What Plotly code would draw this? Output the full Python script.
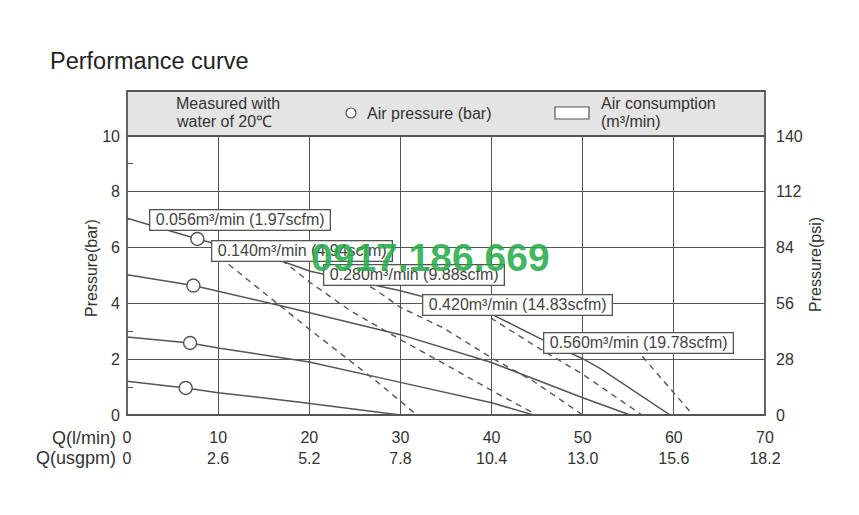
import plotly.graph_objects as go

# ---------------- data ----------------
q_ticks = [0, 10, 20, 30, 40, 50, 60, 70]
usgpm_ticks = ["0", "2.6", "5.2", "7.8", "10.4", "13.0", "15.6", "18.2"]
bar_ticks = [0, 2, 4, 6, 8, 10]
psi_ticks = [0, 28, 56, 84, 112, 140]

# air-pressure curves (solid), flow l/min vs pressure bar
s1_q = [0, 6.44, 10, 19, 30]
s1_p = [1.21, 0.97, 0.8, 0.46, 0]
s2_q = [0, 6.92, 10, 20, 30, 40, 44.6]
s2_p = [2.80, 2.58, 2.4, 1.9, 1.17, 0.44, 0]
s3_q = [0, 7.28, 17.1, 30, 40, 50, 55.2]
s3_p = [5.03, 4.64, 3.9, 2.88, 1.88, 0.62, 0]
s4_q = [0, 7.72, 17.1, 20.1, 30, 32.5, 40.2, 46, 50.1, 51.9, 59.6]
s4_p = [7.05, 6.31, 5.5, 5.15, 4.45, 4.24, 3.58, 2.63, 2.0, 1.67, 0]

# circle markers (air pressure points)
circ_q = [6.44, 6.92, 7.28, 7.72]
circ_p = [0.97, 2.58, 4.64, 6.31]

# air-consumption curves (dashed)
d1_q = [9.3, 11.3, 20.1, 27.4, 31.8]
d1_p = [5.9, 5.36, 3.05, 1.2, 0]
d2_q = [17, 20.1, 24.5, 30, 35, 40, 45]
d2_p = [5.55, 4.75, 3.74, 2.7, 1.8, 0.88, 0]
d3_q = [24.6, 27.4, 30, 34.7, 40, 44.6, 50]
d3_p = [5.0, 4.46, 3.86, 3.12, 2.05, 1.21, 0]
d4_q = [39, 40.2, 45, 50, 56.5]
d4_p = [3.75, 3.42, 2.43, 1.46, 0]
d5_q = [55, 56.3, 62.1]
d5_p = [2.7, 2.19, 0]

cons_labels = ["0.056m³/min (1.97scfm)", "0.140m³/min (4.94scfm)",
               "0.280m³/min (9.88scfm)", "0.420m³/min (14.83scfm)",
               "0.560m³/min (19.78scfm)"]
label_q = [12.45, 19.25, 31.5, 42.8, 56.1]
label_p = [6.98, 5.88, 5.02, 3.96, 2.58]

# ---------------- style ----------------
FONT = "Liberation Sans, Arial, sans-serif"
LC = "#555555"
TXT = "#333333"

# plot area in pixels
L, R, T, B = 127, 765, 136, 415
W, H = 859, 515
PW, PH = R - L, B - T


def px(xp):
    return (xp - L) / PW


def py(yp):
    return (B - yp) / PH


fig = go.Figure()

for qq, pp in [(s1_q, s1_p), (s2_q, s2_p), (s3_q, s3_p), (s4_q, s4_p)]:
    fig.add_trace(go.Scatter(x=qq, y=pp, mode="lines",
                             line=dict(color=LC, width=1.5),
                             hoverinfo="skip", showlegend=False))
for qq, pp in [(d1_q, d1_p), (d2_q, d2_p), (d3_q, d3_p), (d4_q, d4_p), (d5_q, d5_p)]:
    fig.add_trace(go.Scatter(x=qq, y=pp, mode="lines",
                             line=dict(color=LC, width=1.4, dash="6px,5px"),
                             hoverinfo="skip", showlegend=False))

fig.add_trace(go.Scatter(x=circ_q, y=circ_p, mode="markers",
                         marker=dict(symbol="circle", size=13, color="white",
                                     line=dict(color=LC, width=1.4)),
                         hoverinfo="skip", showlegend=False))

# invisible anchor for right axis
fig.add_trace(go.Scatter(x=[0] * len(psi_ticks), y=psi_ticks, yaxis="y2",
                         mode="markers", marker=dict(opacity=0),
                         hoverinfo="skip", showlegend=False))

annotations = []
for txt, qx, pyv in zip(cons_labels, label_q, label_p):
    annotations.append(dict(x=qx, y=pyv, xref="x", yref="y",
                            text="\u00a0" + txt + "\u00a0", showarrow=False,
                            font=dict(family=FONT, size=16, color="#444444"),
                            bgcolor="white", bordercolor=LC, borderwidth=1.3,
                            borderpad=1))

# title
annotations.append(dict(x=px(48), y=py(61), xref="paper", yref="paper",
                        text="Performance curve", showarrow=False,
                        xanchor="left", yanchor="middle",
                        font=dict(family=FONT, size=23.5, color="#222222")))
# header texts
hdr = [("Measured with", 174, 103), ("water of 20℃", 174, 121),
       ("Air pressure (bar)", 365, 113),
       ("Air consumption", 599, 103), ("(m³/min)", 599, 121)]
for t, xp_, yp_ in hdr:
    annotations.append(dict(x=px(xp_), y=py(yp_), xref="paper", yref="paper",
                            text=t, showarrow=False, xanchor="left", yanchor="middle",
                            font=dict(family=FONT, size=16, color=TXT)))
# axis titles
annotations.append(dict(x=px(91), y=py(268), xref="paper", yref="paper",
                        text="Pressure(bar)", showarrow=False, textangle=-90,
                        xanchor="center", yanchor="middle",
                        font=dict(family=FONT, size=16, color=TXT)))
annotations.append(dict(x=px(815), y=py(265), xref="paper", yref="paper",
                        text="Pressure(psi)", showarrow=False, textangle=-90,
                        xanchor="center", yanchor="middle",
                        font=dict(family=FONT, size=16, color=TXT)))
# bottom row names
annotations.append(dict(x=px(118), y=py(438), xref="paper", yref="paper",
                        text="Q(l/min)", showarrow=False, xanchor="right", yanchor="middle",
                        font=dict(family=FONT, size=18, color=TXT)))
annotations.append(dict(x=px(118), y=py(458), xref="paper", yref="paper",
                        text="Q(usgpm)", showarrow=False, xanchor="right", yanchor="middle",
                        font=dict(family=FONT, size=18, color=TXT)))
# watermark
annotations.append(dict(x=px(430), y=py(257), xref="paper", yref="paper",
                        text="<b>0917.186.669</b>", showarrow=False,
                        xanchor="center", yanchor="middle",
                        font=dict(family=FONT, size=39, color="rgba(40,172,75,0.9)")))

shapes = [
    # header box
    dict(type="rect", xref="paper", yref="paper", x0=0, x1=1, y0=1, y1=py(91),
         fillcolor="#e4e4e4", line=dict(color=LC, width=1.8), layer="below"),
    # plot frame
    dict(type="rect", xref="paper", yref="paper", x0=0, x1=1, y0=0, y1=1,
         line=dict(color=LC, width=1.8)),
    # legend circle
    dict(type="circle", xref="paper", yref="paper",
         x0=px(346), x1=px(356), y0=py(118), y1=py(108),
         fillcolor="white", line=dict(color=LC, width=1.2)),
    # legend rectangle
    dict(type="rect", xref="paper", yref="paper",
         x0=px(555), x1=px(589), y0=py(119), y1=py(107),
         fillcolor="white", line=dict(color=LC, width=1.2)),
]

fig.update_layout(
    width=W, height=H,
    margin=dict(l=L, r=W - R, t=T, b=H - B, pad=0),
    paper_bgcolor="white", plot_bgcolor="white",
    showlegend=False,
    font=dict(family=FONT, size=16, color=TXT),
    xaxis=dict(range=[0, 70], tickvals=q_ticks,
               ticktext=[f"{a}<br>{b}" for a, b in zip(q_ticks, usgpm_ticks)],
               showgrid=True, gridcolor=LC, gridwidth=1.3, zeroline=False,
               showline=False, ticks="", ticklabelstandoff=11,
               tickfont=dict(family=FONT, size=16, color=TXT), fixedrange=True),
    yaxis=dict(range=[0, 10], tickvals=bar_ticks, showgrid=True, gridcolor=LC,
               gridwidth=1.3, zeroline=False, showline=False, ticks="",
               ticklabelstandoff=6,
               minor=dict(dtick=1, ticks="inside", ticklen=6, tickcolor=LC,
                          tickwidth=1.3, showgrid=False),
               tickfont=dict(family=FONT, size=16, color=TXT), fixedrange=True),
    yaxis2=dict(range=[0, 140], tickvals=psi_ticks, overlaying="y", side="right",
                showgrid=False, zeroline=False, showline=False, ticks="",
                ticklabelstandoff=10,
                tickfont=dict(family=FONT, size=16, color=TXT), fixedrange=True),
    annotations=annotations,
    shapes=shapes,
)

fig.write_html("out.html", config={"displayModeBar": False},
               post_script="document.body.style.margin='0px';document.body.style.padding='0px';")
